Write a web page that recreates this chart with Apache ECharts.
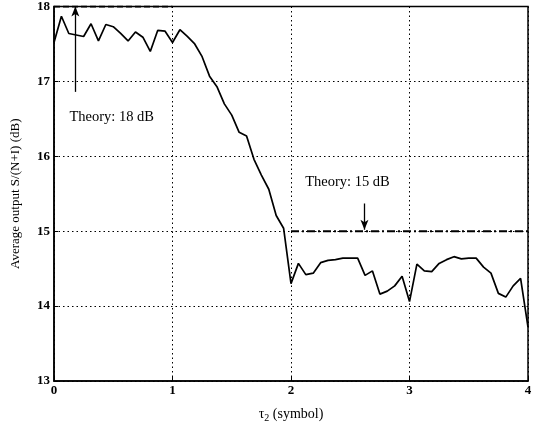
<!DOCTYPE html>
<html>
<head>
<meta charset="utf-8">
<script src="https://cdn.jsdelivr.net/npm/echarts@6/dist/echarts.min.js"></script>
<style>html,body{margin:0;padding:0;background:#fff}#c{width:536px;height:429px}</style>
</head>
<body>
<div id="c"></div>
<script>
const tau = [0,0.0625,0.125,0.1875,0.25,0.3125,0.375,0.4375,0.5,0.5625,0.625,0.6875,0.75,0.8125,0.875,0.9375,
  1.0,1.0625,1.125,1.1875,1.25,1.3125,1.375,1.4375,1.5,1.5625,1.625,1.6875,1.75,1.8125,1.875,1.9375,
  2.0,2.0625,2.125,2.1875,2.25,2.3125,2.375,2.4375,2.5,2.5625,2.625,2.6875,2.75,2.8125,2.875,2.9375,
  3.0,3.0625,3.125,3.1875,3.25,3.3125,3.375,3.4375,3.5,3.5625,3.625,3.6875,3.75,3.8125,3.875,3.9375,4.0];
const snr = [17.52,17.87,17.64,17.62,17.60,17.77,17.54,17.76,17.73,17.64,17.54,17.66,17.59,17.40,17.68,17.67,
  17.52,17.69,17.60,17.50,17.33,17.07,16.93,16.70,16.55,16.32,16.27,15.96,15.75,15.56,15.21,15.04,
  14.30,14.57,14.42,14.44,14.58,14.61,14.62,14.64,14.64,14.64,14.41,14.47,14.16,14.20,14.27,14.40,
  14.06,14.56,14.47,14.46,14.57,14.62,14.66,14.63,14.64,14.64,14.52,14.44,14.17,14.12,14.27,14.37,13.72];
const theory18X = [0, 1];
const theory18Y = [18, 18];
const theory15X = [2, 4];
const theory15Y = [15, 15];
const arrow18 = [[0.18, 16.86], [0.18, 18]];
const arrow15 = [[2.62, 15.37], [2.62, 15.02]];
const labelTexts = ['Theory: 18 dB', 'Theory: 15 dB'];
const labelPos = [[0.13, 16.52], [2.12, 15.65]];
const xTicks = [0, 1, 2, 3, 4];
const yTicks = [13, 14, 15, 16, 17, 18];

const font = 'Liberation Serif';
const chart = echarts.init(document.getElementById('c'));
const zip = (a, b) => a.map((v, i) => [v, b[i]]);
chart.setOption({
  animation: false,
  backgroundColor: '#fff',
  grid: {left: 54, right: 8, top: 6, bottom: 48, show: true, borderColor: '#000', borderWidth: 1.5},
  xAxis: {
    type: 'value', min: xTicks[0], max: xTicks[xTicks.length - 1], interval: 1,
    name: 'τ{s|2} (symbol)', nameLocation: 'middle', nameGap: 24,
    nameTextStyle: {fontFamily: font, fontSize: 14, color: '#000',
      rich: {s: {fontFamily: font, fontSize: 10, verticalAlign: 'bottom', padding: [8, 0, 0, 0], color: '#000'}}},
    axisLine: {show: true, lineStyle: {color: '#000', width: 1.5}},
    axisTick: {show: true, inside: true, length: 4, lineStyle: {color: '#000'}},
    axisLabel: {fontFamily: font, fontSize: 13, fontWeight: 'bold', color: '#000', margin: 3},
    splitLine: {show: true, lineStyle: {color: '#000', type: [1.5, 3], width: 1}}
  },
  yAxis: {
    type: 'value', min: yTicks[0], max: yTicks[yTicks.length - 1], interval: 1,
    name: 'Average output S/(N+I) (dB)', nameLocation: 'middle', nameGap: 32,
    nameTextStyle: {fontFamily: font, fontSize: 13, color: '#000'},
    axisLine: {show: true, lineStyle: {color: '#000', width: 1.5}},
    axisTick: {show: true, inside: true, length: 4, lineStyle: {color: '#000'}},
    axisLabel: {fontFamily: font, fontSize: 13, fontWeight: 'bold', color: '#000', margin: 4},
    splitLine: {show: true, lineStyle: {color: '#000', type: [1.5, 3], width: 1}}
  },
  series: [
    {type: 'line', data: zip(tau, snr), symbol: 'none', lineStyle: {color: '#000', width: 1.7}},
    {type: 'line', data: zip(theory18X, theory18Y), symbol: 'none', lineStyle: {color: '#000', width: 2.2, type: [6, 3]}},
    {type: 'line', data: zip(theory15X, theory15Y), symbol: 'none', lineStyle: {color: '#000', width: 2, type: [8, 3, 2, 3]}},
    {type: 'line', data: [], markLine: {
      silent: true, symbol: ['none', 'arrow'], symbolSize: [6, 10],
      lineStyle: {color: '#000', width: 1.3, type: 'solid'}, label: {show: false},
      data: [[{coord: arrow18[0]}, {coord: arrow18[1]}], [{coord: arrow15[0]}, {coord: arrow15[1]}]]
    }},
    {type: 'scatter', symbolSize: 0, itemStyle: {opacity: 1, color: '#000'},
      data: labelPos.map((p, i) => ({value: p, name: labelTexts[i]})),
      label: {show: true, position: 'right', distance: 0, formatter: p => p.name, opacity: 1,
        fontFamily: font, fontSize: 14.5, color: '#000'}}
  ]
});
</script>
</body>
</html>
